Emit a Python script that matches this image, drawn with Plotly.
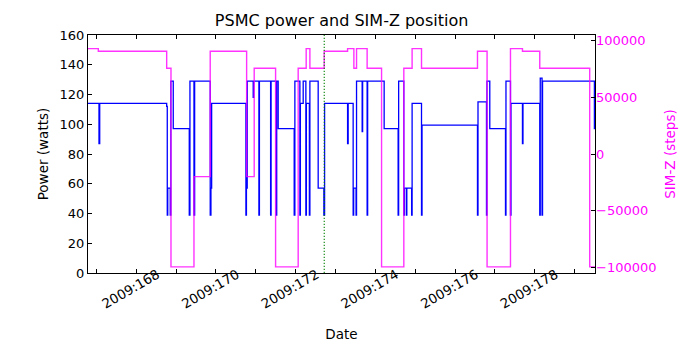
import plotly.graph_objects as go

# PSMC power (watts) as a step series: change times (day of year 2009) and levels
power_time = [
    166.787, 167.063, 167.081, 168.762, 168.777, 168.789, 168.852, 168.867, 168.927,
    169.329, 169.346, 169.447, 169.464, 169.855, 169.873, 169.891, 170.751, 170.764,
    170.784, 170.934, 170.947, 171.077, 171.090, 171.371, 171.383, 171.511, 171.524,
    171.561, 171.963, 171.980, 172.106, 172.118, 172.189, 172.256, 172.269, 172.344,
    172.357, 172.565, 172.708, 172.726, 173.303, 173.318, 173.443, 173.456, 173.516,
    173.528, 173.669, 173.681, 173.794, 173.807, 174.221, 174.572, 174.585, 174.715,
    174.728, 174.778, 174.790, 174.911, 174.923, 175.159, 175.172, 176.564, 176.577,
    176.790, 176.802, 176.873, 177.267, 177.279, 177.392, 177.405, 177.693, 177.706,
    178.127, 178.140, 178.185, 178.197, 179.499, 179.514,
]
power_watts = [
    114, 87, 114, 112, 39, 57, 39, 129, 97,
    39, 129, 39, 129, 39, 57, 114, 39, 57,
    129, 118, 129, 39, 129, 39, 129, 39, 129,
    97, 39, 129, 39, 114, 129, 39, 114, 39,
    129, 57, 39, 114, 87, 114, 39, 57, 39,
    129, 95, 129, 39, 129, 97, 39, 129, 39,
    57, 39, 57, 39, 114, 39, 99.4, 39, 115,
    39, 129, 97, 39, 129, 39, 114, 87, 114,
    39, 131, 39, 129, 97, 97,
]

# SIM-Z position (steps) as a step series
simz_time = [
    166.787, 167.046, 168.762, 168.870, 169.447, 169.855, 170.769, 170.959, 171.496,
    172.063, 172.264, 172.357, 172.716, 173.303, 173.461, 173.528, 173.794, 174.156,
    174.715, 174.923, 175.159, 176.564, 176.805, 177.392, 177.693, 178.127, 179.381,
    179.514,
]
simz_steps = [
    93000, 90600, 75600, -99600, -20000, 90600, -20000, 75600, -99600,
    75600, 93000, 75600, 90600, 93000, 75600, 93000, 75600, -99600,
    75600, 93000, 75600, 90600, -99600, 93000, 90600, 75600, -99600,
    -99600,
]

# Current-time marker
now_day = 172.717

# Axis ticks
day_ticks = list(range(167, 180))
day_labels = [f"2009:{d}" if d % 2 == 0 else "" for d in day_ticks]
power_ticks = [0, 20, 40, 60, 80, 100, 120, 140, 160]
simz_ticks = [-100000, -50000, 0, 50000, 100000]
simz_labels = ["\u2212100000", "\u221250000", "0", "50000", "100000"]

FONT = "DejaVu Sans"
MAGENTA = "#ff00ff"

fig = go.Figure()
fig.add_trace(go.Scatter(
    x=power_time, y=power_watts, mode="lines", line_shape="hv",
    line=dict(color="#0000ff", width=1.3), yaxis="y", showlegend=False,
))
fig.add_trace(go.Scatter(
    x=simz_time, y=simz_steps, mode="lines", line_shape="hv",
    line=dict(color=MAGENTA, width=1.4), opacity=0.8, yaxis="y2", showlegend=False,
))

fig.add_shape(type="line", xref="x", yref="paper", x0=now_day, x1=now_day, y0=0, y1=1,
              line=dict(color="green", width=1.1, dash="1.2px,1.8px"), layer="above")

fig.update_layout(
    width=700, height=350,
    margin=dict(l=88, r=105, t=35, b=77),
    paper_bgcolor="white", plot_bgcolor="white",
    font=dict(family=FONT, size=13, color="black"),
    title=dict(text="PSMC power and SIM-Z position", x=0.488, xanchor="center",
               y=0.943, yanchor="middle", font=dict(size=16, family=FONT)),
    xaxis=dict(
        range=[166.787, 179.514], tickmode="array", tickvals=day_ticks, ticktext=day_labels,
        ticks="inside", ticklen=4, tickcolor="black", showline=True, linecolor="black",
        linewidth=1, mirror="ticks", showgrid=False, zeroline=False, tickangle=-30,
        ticklabelshift=21, ticklabelstandoff=-12, automargin=False,
        tickfont=dict(size=13.3), title=dict(text="Date", font=dict(size=13.5), standoff=19),
    ),
    yaxis=dict(
        range=[0, 160], tickmode="array", tickvals=power_ticks,
        ticks="inside", ticklen=4, tickcolor="black", showline=True, linecolor="black",
        linewidth=1, mirror=True, showgrid=False, zeroline=False, automargin=False,
        tickfont=dict(size=13), title=dict(text="Power (watts)", font=dict(size=13.5), standoff=7),
    ),
    yaxis2=dict(
        overlaying="y", side="right", range=[-105000, 105000], tickmode="array",
        tickvals=simz_ticks, ticktext=simz_labels,
        ticks="inside", ticklen=4, tickcolor="black", showline=False,
        showgrid=False, zeroline=False, automargin=False,
        tickfont=dict(size=13, color=MAGENTA),
        title=dict(text="SIM-Z (steps)", font=dict(size=13.5, color=MAGENTA), standoff=10),
    ),
)

fig.write_html("out.html")
